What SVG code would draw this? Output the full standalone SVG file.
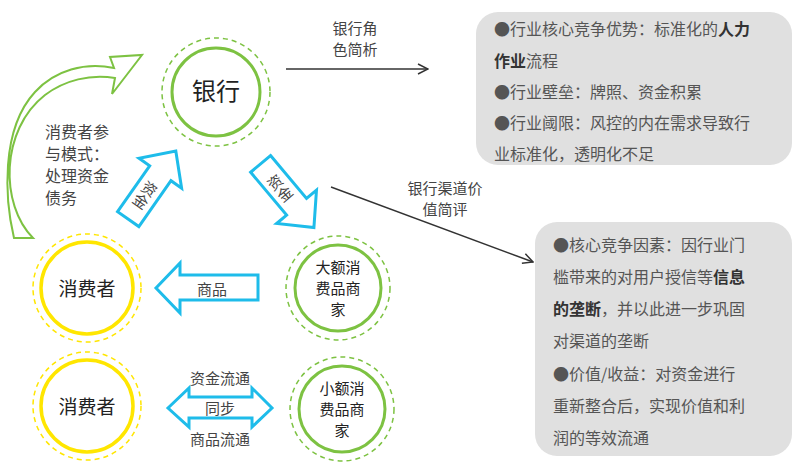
<svg xmlns="http://www.w3.org/2000/svg" width="800" height="466" viewBox="0 0 800 466">
<defs>
<style>
text{font-family:"Noto Sans CJK SC","Liberation Sans",sans-serif;}
.g{fill:none;stroke:#7dc242;stroke-width:3}
.gd{fill:none;stroke:#7dc242;stroke-width:1.5;stroke-dasharray:5,4}
.y{fill:none;stroke:#ffe600;stroke-width:3.5}
.yd{fill:none;stroke:#ffe600;stroke-width:1.5;stroke-dasharray:5,4}
.b{fill:#fff;stroke:#1ebcea;stroke-width:3}
.n{font-size:19px;fill:#222;text-anchor:middle}
.m{font-size:15px;fill:#222;text-anchor:middle}
.s{font-size:15px;fill:#444;text-anchor:middle}
.v{font-size:15px;fill:#444;text-anchor:middle;writing-mode:vertical-rl}
.t{font-size:16px;fill:#555}
.bx{fill:#e0e0e0}
</style>
<marker id="ah" markerWidth="12" markerHeight="12" refX="11" refY="6" orient="auto" markerUnits="userSpaceOnUse"><path d="M1,1 L11,6 L1,11" fill="none" stroke="#333" stroke-width="1.5"/></marker>
</defs>
<rect width="800" height="466" fill="#fff"/>
<g id="connectors">
<path d="M286,69 L428,69" stroke="#333" stroke-width="1.5" marker-end="url(#ah)"/>
<path d="M331,187 L533,262" stroke="#333" stroke-width="1.5" marker-end="url(#ah)"/>
<text class="s" x="355" y="34">银行角</text>
<text class="s" x="355" y="55">色简析</text>
<text class="s" x="445" y="194">银行渠道价</text>
<text class="s" x="445" y="215">值简评</text>
<path d="M33,238 C0,205 0,130 45,95 C65,80 90,74 115,78 L112,94 L142,55 L110,57 L114,68 C85,62 55,70 35,92 C0,130 5,200 14,238 Z" fill="#fff" stroke="#7dc242" stroke-width="2"/>
<text x="45" y="138" class="t" style="fill:#444">消费者参</text>
<text x="45" y="160" class="t" style="fill:#444">与模式：</text>
<text x="45" y="182" class="t" style="fill:#444">处理资金</text>
<text x="45" y="204" class="t" style="fill:#444">债务</text>
<path transform="translate(150,188) rotate(-55)" d="M-38,-13 L18,-13 L18,-26 L45,0 L18,26 L18,13 L-38,13 Z" class="b"/>
<text class="v" transform="translate(145,195) rotate(35)">资金</text>
<path transform="translate(285,193) rotate(50)" d="M-38,-13 L18,-13 L18,-26 L45,0 L18,26 L18,13 L-38,13 Z" class="b"/>
<text class="v" transform="translate(280,188) rotate(-40)">资金</text>
<path d="M258,275 L180,275 L180,263 L156,288 L180,313 L180,300 L258,300 Z" class="b"/>
<text class="s" x="212" y="295">商品</text>
<path d="M168,408 L189,388 L189,397 L252,397 L252,388 L272,408 L252,427 L252,418 L189,418 L189,427 Z" class="b"/>
<text class="s" x="220" y="384">资金流通</text>
<text class="s" x="220" y="414">同步</text>
<text class="s" x="220" y="445">商品流通</text>
</g>
<g id="bank"><circle cx="216" cy="92" r="54" class="gd"/><circle cx="216" cy="92" r="44" class="g"/><text class="n" x="216" y="100" style="font-size:24px">银行</text></g>
<g id="bigmerchant"><circle cx="338" cy="288" r="52" class="gd"/><circle cx="338" cy="288" r="43" class="g"/><text class="m" x="338" y="273">大额消</text><text class="m" x="338" y="294">费品商</text><text class="m" x="338" y="315">家</text></g>
<g id="smallmerchant"><circle cx="342" cy="409" r="52" class="gd"/><circle cx="342" cy="409" r="43" class="g"/><text class="m" x="342" y="394">小额消</text><text class="m" x="342" y="415">费品商</text><text class="m" x="342" y="436">家</text></g>
<g id="consumer1"><circle cx="87" cy="288" r="54" class="yd"/><circle cx="87" cy="288" r="46" class="y"/><text class="n" x="87" y="296">消费者</text></g>
<g id="consumer2"><circle cx="87" cy="406" r="54" class="yd"/><circle cx="87" cy="406" r="46" class="y"/><text class="n" x="87" y="414">消费者</text></g>
<g id="box1">
<rect x="476" y="12" width="316" height="153" rx="22" class="bx"/>
<text class="t" x="494" y="35">●行业核心竞争优势：标准化的<tspan font-weight="bold" fill="#333">人力</tspan></text>
<text class="t" x="494" y="67"><tspan font-weight="bold" fill="#333">作业</tspan>流程</text>
<text class="t" x="494" y="98">●行业壁垒：牌照、资金积累</text>
<text class="t" x="494" y="129">●行业阈限：风控的内在需求导致行</text>
<text class="t" x="494" y="160">业标准化，透明化不足</text>
</g>
<g id="box2">
<rect x="535" y="222" width="257" height="234" rx="22" class="bx"/>
<text class="t" x="553" y="251">●核心竞争因素：因行业门</text>
<text class="t" x="553" y="283">槛带来的对用户授信等<tspan font-weight="bold" fill="#333">信息</tspan></text>
<text class="t" x="553" y="315"><tspan font-weight="bold" fill="#333">的垄断</tspan>，并以此进一步巩固</text>
<text class="t" x="553" y="347">对渠道的垄断</text>
<text class="t" x="553" y="380">●价值/收益：对资金进行</text>
<text class="t" x="553" y="412">重新整合后，实现价值和利</text>
<text class="t" x="553" y="444">润的等效流通</text>
</g>
</svg>
